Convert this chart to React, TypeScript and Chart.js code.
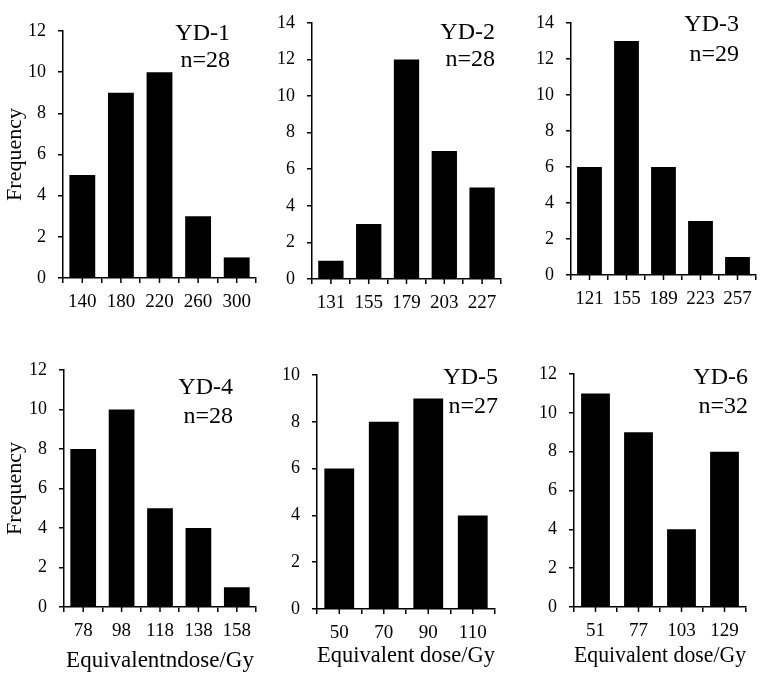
import { useEffect, useRef } from "react"
import { Chart, registerables } from "chart.js"

Chart.register(...registerables)

Chart.defaults.font.family = "'Liberation Serif', 'Times New Roman', serif"
Chart.defaults.color = "#000"

// ---- data ----
const panelNames = ["YD-1", "YD-2", "YD-3", "YD-4", "YD-5", "YD-6"]
const sampleCounts = [28, 28, 29, 28, 27, 32]
const yMaxima = [12, 14, 14, 12, 10, 12]

const doseBins1 = ["140", "180", "220", "260", "300"]
const frequency1 = [5, 9, 10, 3, 1]
const doseBins2 = ["131", "155", "179", "203", "227"]
const frequency2 = [1, 3, 12, 7, 5]
const doseBins3 = ["121", "155", "189", "223", "257"]
const frequency3 = [6, 13, 6, 3, 1]
const doseBins4 = ["78", "98", "118", "138", "158"]
const frequency4 = [8, 10, 5, 4, 1]
const doseBins5 = ["50", "70", "90", "110"]
const frequency5 = [6, 8, 9, 4]
const doseBins6 = ["51", "77", "103", "129"]
const frequency6 = [11, 9, 4, 8]

const doseBins = [doseBins1, doseBins2, doseBins3, doseBins4, doseBins5, doseBins6]
const frequencies = [frequency1, frequency2, frequency3, frequency4, frequency5, frequency6]
const xTitles = ["", "", "", "Equivalentndose/Gy", "Equivalent dose/Gy", "Equivalent dose/Gy"]
const yTitles = ["Frequency", "", "", "Frequency", "", ""]

// ---- layout of each panel on the page ----
const layouts = [
  { left: 0, top: 0, width: 262, height: 330, yW: 63, xH: 52, padTop: 31, padRight: 6, dx: -26, nameY: 34, nY: 61, titlePad: 0 },
  { left: 262, top: 0, width: 248, height: 330, yW: 50, xH: 51, padTop: 12, padRight: 9, dx: -6, nameY: 33, nY: 60, titlePad: 0 },
  { left: 510, top: 0, width: 251, height: 330, yW: 61, xH: 55, padTop: 23, padRight: 5, dx: -17, nameY: 25, nY: 55, titlePad: 0 },
  { left: 0, top: 330, width: 262, height: 346, yW: 64, xH: 69, padTop: 40, padRight: 6, dx: -23, nameY: 58, nY: 87, titlePad: 1 },
  { left: 262, top: 330, width: 248, height: 346, yW: 55, xH: 67, padTop: 45, padRight: 15, dx: 3, nameY: 48, nY: 77, titlePad: 6 },
  { left: 510, top: 330, width: 251, height: 346, yW: 64, xH: 69, padTop: 44, padRight: 15, dx: 2, nameY: 48, nY: 77, titlePad: 6 },
]

// draws the minor ticks under each bar and the sample label in the corner
const panelDecor = {
  id: "panelDecor",
  afterDraw(chart: any, _args: any, opts: any) {
    const { ctx, chartArea, scales } = chart
    const x = scales.x
    ctx.save()
    ctx.strokeStyle = "#000"
    ctx.lineWidth = 1.5
    for (let i = 0; i < x.ticks.length; i++) {
      const px = x.getPixelForTick(i)
      ctx.beginPath()
      ctx.moveTo(px, chartArea.bottom)
      ctx.lineTo(px, chartArea.bottom + 5)
      ctx.stroke()
    }
    ctx.font = "24px 'Liberation Serif', 'Times New Roman', serif"
    ctx.fillStyle = "#000"
    ctx.textAlign = "right"
    ctx.textBaseline = "middle"
    ctx.fillText(opts.name, chartArea.right + opts.dx, opts.nameY)
    ctx.fillText(`n=${opts.n}`, chartArea.right + opts.dx, opts.nY)
    ctx.restore()
  },
}

function HistogramPanel({ index }: { index: number }) {
  const chartRef = useRef<HTMLCanvasElement>(null)
  const chartInstance = useRef<Chart | null>(null)
  const lay = layouts[index]

  useEffect(() => {
    if (!chartRef.current) return
    if (chartInstance.current) chartInstance.current.destroy()
    const ctx = chartRef.current.getContext("2d")
    if (!ctx) return

    chartInstance.current = new Chart(ctx, {
      type: "bar",
      data: {
        labels: doseBins[index],
        datasets: [
          {
            data: frequencies[index],
            backgroundColor: "#000",
            borderWidth: 0,
            categoryPercentage: 1,
            barPercentage: 0.67,
          },
        ],
      },
      plugins: [panelDecor],
      options: {
        responsive: false,
        animation: false,
        layout: { padding: { top: lay.padTop, right: lay.padRight, left: 0, bottom: 0 } },
        plugins: {
          legend: { display: false },
          tooltip: { enabled: false },
          panelDecor: { name: panelNames[index], n: sampleCounts[index], dx: lay.dx, nameY: lay.nameY, nY: lay.nY },
        } as any,
        scales: {
          x: {
            offset: true,
            afterFit: (scale: any) => {
              scale.height = lay.xH
            },
            border: { color: "#000", width: 1.5 },
            grid: {
              offset: true,
              drawOnChartArea: false,
              drawTicks: true,
              tickLength: 5,
              color: "#000",
              lineWidth: 1.5,
            },
            ticks: { font: { size: 19 }, color: "#000", padding: 8, maxRotation: 0 },
            title: {
              display: xTitles[index] !== "",
              text: xTitles[index],
              color: "#000",
              font: { size: 23 },
              padding: { top: 0, bottom: lay.titlePad },
            },
          },
          y: {
            min: 0,
            max: yMaxima[index],
            afterFit: (scale: any) => {
              scale.width = lay.yW
            },
            border: { color: "#000", width: 1.5 },
            grid: {
              drawOnChartArea: false,
              drawTicks: true,
              tickLength: 5,
              color: "#000",
              lineWidth: 1.5,
            },
            ticks: { stepSize: 2, font: { size: 18 }, color: "#000", padding: 12 },
            title: {
              display: yTitles[index] !== "",
              text: yTitles[index],
              color: "#000",
              font: { size: 22 },
              padding: { top: 2, bottom: 0 },
            },
          },
        },
      },
    })

    return () => {
      if (chartInstance.current) {
        chartInstance.current.destroy()
        chartInstance.current = null
      }
    }
  }, [index])

  return (
    <canvas
      ref={chartRef}
      width={lay.width}
      height={lay.height}
      style={{ position: "absolute", left: lay.left, top: lay.top, width: lay.width, height: lay.height }}
    />
  )
}

export default function App() {
  return (
    <div style={{ position: "absolute", left: 0, top: 0, width: 761, height: 676, background: "#fff" }}>
      {panelNames.map((_, i) => (
        <HistogramPanel key={i} index={i} />
      ))}
    </div>
  )
}
